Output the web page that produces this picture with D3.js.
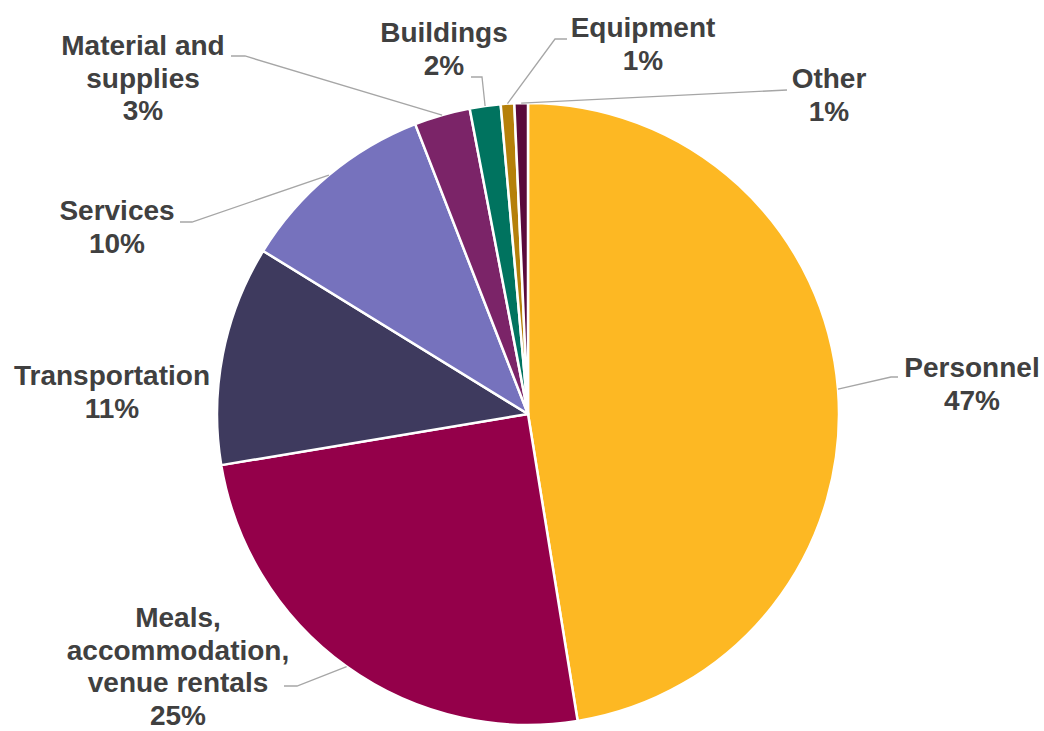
<!DOCTYPE html>
<html>
<head>
<meta charset="utf-8">
<script src="https://cdn.jsdelivr.net/npm/d3@7"></script>
<style>
  html, body { margin: 0; padding: 0; background: #fff; }
  svg { display: block; }
  .lbl { font-family: "Liberation Sans", Arial, sans-serif; font-weight: bold; font-size: 28px; fill: #404040; }
</style>
</head>
<body>
<svg id="chart" width="1044" height="731"></svg>
<script>
// Spending by category (share of total, %)
const categories = ["Personnel", "Meals, accommodation, venue rentals", "Transportation", "Services",
                    "Material and supplies", "Buildings", "Equipment", "Other"];
const shares = [47.4, 24.9, 11.4, 10.3, 2.9, 1.6, 0.7, 0.7];
// Label lines as they are wrapped on the chart
const labelLines = [
  ["Personnel"],
  ["Meals,", "accommodation,", "venue rentals"],
  ["Transportation"],
  ["Services"],
  ["Material and", "supplies"],
  ["Buildings"],
  ["Equipment"],
  ["Other"]
];
const colors = ["#FDB823", "#94004A", "#3E3A5E", "#7672BD", "#7B2468", "#00735F", "#B5800A", "#5A0A3C"];

// Label placement: text centre x, first baseline y, leader elbow and leader end (null = no leader)
const labelLayout = [
  { x: 972, y: 377, elbow: [891, 377], end: [898, 377] },
  { x: 178, y: 627, elbow: [297, 686], end: [284, 686] },
  { x: 112, y: 385, elbow: null, end: null },
  { x: 117, y: 220, elbow: [192, 222], end: [180, 222] },
  { x: 143, y: 55, elbow: [245, 56], end: [231, 56] },
  { x: 444, y: 42, elbow: [482, 77], end: [471, 77] },
  { x: 643, y: 37, elbow: [555, 39], end: [567, 39] },
  { x: 829, y: 88, elbow: [787, 90], end: [787, 90] }
];

const cx = 528, cy = 414, radius = 311, lineH = 32.5;
const svg = d3.select("#chart");

const data = categories.map((c, i) => ({ name: c, value: shares[i], color: colors[i], lines: labelLines[i], layout: labelLayout[i] }));

const pie = d3.pie().sort(null).value(d => d.value);
const arcs = pie(data);
const arc = d3.arc().innerRadius(0).outerRadius(radius);
const fmt = v => Math.round(v) + "%";

const g = svg.append("g").attr("transform", `translate(${cx},${cy})`);
g.selectAll("path.slice")
  .data(arcs)
  .join("path")
  .attr("class", "slice")
  .attr("d", arc)
  .attr("fill", d => d.data.color)
  .attr("stroke", "#fff")
  .attr("stroke-width", 2.5)
  .attr("stroke-linejoin", "round");

// Leader lines from the middle of each slice's rim to its label
const leaders = svg.append("g");
arcs.forEach(a => {
  const L = a.data.layout;
  if (!L.elbow) return;
  const mid = (a.startAngle + a.endAngle) / 2;
  const px = cx + radius * Math.sin(mid);
  const py = cy - radius * Math.cos(mid);
  leaders.append("polyline")
    .attr("points", [[px, py], L.elbow, L.end].map(p => p.join(",")).join(" "))
    .attr("fill", "none")
    .attr("stroke", "#A6A6A6")
    .attr("stroke-width", 1.3);
});

// Category name and percentage labels
const labels = svg.append("g");
arcs.forEach(a => {
  const L = a.data.layout;
  const t = labels.append("text").attr("class", "lbl").attr("text-anchor", "middle");
  const lines = a.data.lines.concat([fmt(a.data.value)]);
  lines.forEach((s, i) => {
    t.append("tspan").attr("x", L.x).attr("y", L.y + i * lineH).text(s);
  });
});
</script>
</body>
</html>
